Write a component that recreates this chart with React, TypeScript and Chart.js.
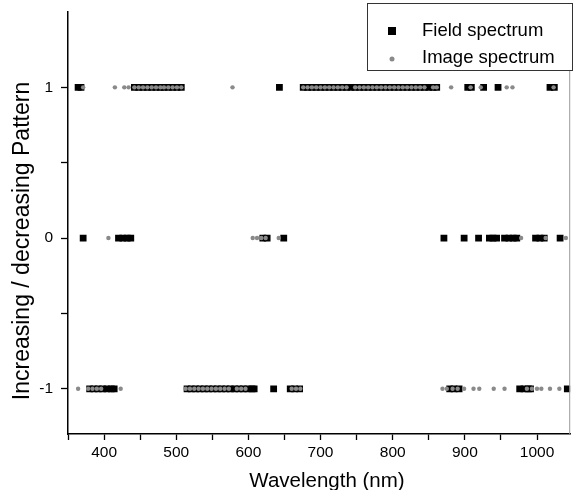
import React, { useEffect, useRef } from "react";
import { Chart, registerables } from "chart.js";
Chart.register(...registerables);

// Wavelengths (nm) where the pattern is +1 (increasing)
const fieldUp = [364, 368, 442, 448, 454, 460, 466, 472, 478, 483, 489, 495, 501, 507, 643,
  676, 682, 688, 694, 700, 706, 712, 718, 724, 730, 736, 742, 748, 754, 760, 766, 772, 778, 784,
  790, 796, 802, 808, 814, 820, 826, 832, 838, 844, 850, 856, 861,
  904, 909, 926, 946, 1018, 1024];
const imageUp = [371, 415, 428, 434, 442, 448, 454, 460, 466, 472, 478, 483, 489, 495, 501, 507, 578,
  676, 682, 688, 694, 700, 706, 712, 718, 724, 730, 736, 748, 754, 760, 766, 772, 778, 784,
  790, 796, 802, 808, 814, 820, 826, 832, 838, 844, 856, 861,
  881, 908, 922, 958, 966, 1023];
// Wavelengths where the pattern is 0
const fieldZero = [371, 420, 426, 432, 437, 620, 626, 649,
  871, 899, 919, 934, 939, 944, 955, 961, 967, 972, 998, 1004, 1010, 1032];
const imageZero = [406, 606, 612, 618, 624, 642, 978, 1012, 1040];
// Wavelengths where the pattern is -1 (decreasing)
const fieldDown = [380, 386, 392, 398, 404, 410, 414,
  515, 521, 527, 533, 539, 545, 551, 557, 563, 569, 575, 581, 587, 593, 599, 605, 608,
  635, 658, 664, 671, 879, 885, 892, 976, 982, 988, 991, 1042];
const imageDown = [364, 378, 384, 390, 396, 423,
  513, 519, 525, 531, 537, 543, 549, 555, 561, 567, 573, 584, 590, 596,
  660, 666, 672, 869, 875, 883, 890, 899, 912, 920, 940, 955, 986, 993, 1000, 1006, 1018, 1031];

const xTickValues = [350, 400, 450, 500, 550, 600, 650, 700, 750, 800, 850, 900, 950, 1000];
const yTickValues = [-1, -0.5, 0, 0.5, 1];
const seriesNames = ["Field spectrum", "Image spectrum"];
const xTitle = "Wavelength (nm)";
const yTitle = "Increasing / decreasing Pattern";

const FONT = '"Liberation Sans", Arial, sans-serif';

const toPoints = (rows: [number[], number][]) =>
  rows.flatMap(([xs, y]) => xs.map((x) => ({ x, y })));

const decorPlugin = {
  id: "decor",
  afterDraw(chart: any) {
    const ctx = chart.ctx;
    const area = chart.chartArea;
    ctx.save();
    // right frame line
    ctx.strokeStyle = "#9a9a9a";
    ctx.lineWidth = 1;
    ctx.beginPath();
    ctx.moveTo(area.right - 0.5, area.top);
    ctx.lineTo(area.right - 0.5, area.bottom);
    ctx.stroke();
    // axis titles
    ctx.fillStyle = "#000";
    ctx.textAlign = "center";
    ctx.textBaseline = "middle";
    ctx.font = `20.5px ${FONT}`;
    ctx.fillText(xTitle, 327, 481);
    ctx.save();
    ctx.font = `23px ${FONT}`;
    ctx.translate(23, 241);
    ctx.rotate(-Math.PI / 2);
    ctx.fillText(yTitle, 0, 0);
    ctx.restore();
    // legend box
    ctx.fillStyle = "#fff";
    ctx.fillRect(367.5, 3.5, 205, 67);
    ctx.strokeStyle = "#333";
    ctx.strokeRect(367.5, 3.5, 205, 67);
    ctx.fillStyle = "#000";
    ctx.fillRect(388, 27, 8, 8);
    ctx.fillStyle = "#8a8a8a";
    ctx.beginPath();
    ctx.arc(392, 59, 2.5, 0, Math.PI * 2);
    ctx.fill();
    ctx.fillStyle = "#000";
    ctx.font = `18.5px ${FONT}`;
    ctx.textBaseline = "alphabetic";
    ctx.textAlign = "left";
    ctx.fillText(seriesNames[0], 422, 36);
    ctx.fillText(seriesNames[1], 422, 63);
    ctx.restore();
  },
};

export default function App() {
  const ref = useRef<HTMLCanvasElement | null>(null);
  useEffect(() => {
    if (!ref.current) return;
    const chart = new Chart(ref.current, {
      type: "scatter",
      data: {
        datasets: [
          {
            label: seriesNames[0],
            data: toPoints([[fieldUp, 1], [fieldZero, 0], [fieldDown, -1]]),
            pointStyle: "rect",
            pointRadius: 4.8,
            backgroundColor: "#000",
            borderWidth: 0,
            order: 2,
          },
          {
            label: seriesNames[1],
            data: toPoints([[imageUp, 1], [imageZero, 0], [imageDown, -1]]),
            pointStyle: "circle",
            pointRadius: 2.2,
            backgroundColor: "#8a8a8a",
            borderWidth: 0,
            order: 1,
          },
        ],
      },
      options: {
        responsive: false,
        animation: false,
        layout: { padding: { top: 12, right: 2, left: 0, bottom: 0 } },
        plugins: { legend: { display: false }, tooltip: { enabled: false } },
        scales: {
          x: {
            type: "linear",
            min: 350,
            max: 1046,
            afterFit: (s: any) => { s.height = 66; s.paddingLeft = 0; s.paddingRight = 0; },
            afterBuildTicks: (s: any) => { s.ticks = xTickValues.map((v) => ({ value: v })); },
            ticks: {
              color: "#000",
              font: { family: FONT, size: 15.5 },
              padding: 3,
              maxRotation: 0,
              autoSkip: false,
              callback: (v: any) => (Number(v) % 100 === 0 ? String(v) : ""),
            },
            grid: { drawOnChartArea: false, tickLength: 6, tickColor: "#000", tickWidth: 1.3 },
            border: { color: "#000", width: 1.5 },
          },
          y: {
            type: "linear",
            min: -1.3,
            max: 1.5,
            afterFit: (s: any) => { s.width = 68; s.paddingTop = 0; s.paddingBottom = 0; },
            afterBuildTicks: (s: any) => { s.ticks = yTickValues.map((v) => ({ value: v })); },
            ticks: {
              color: "#000",
              font: { family: FONT, size: 15.5 },
              padding: 8,
              autoSkip: false,
              callback: (v: any) => (Number.isInteger(Number(v)) ? String(v) : ""),
            },
            grid: { drawOnChartArea: false, tickLength: 7, tickColor: "#000", tickWidth: 1.3 },
            border: { color: "#000", width: 1.5 },
          },
        },
      },
      plugins: [decorPlugin],
    });
    return () => chart.destroy();
  }, []);
  return (
    <div style={{ position: "fixed", left: 0, top: 0, width: 575, height: 490, overflow: "hidden", background: "#fff" }}>
      <canvas ref={ref} width={575} height={500} style={{ display: "block" }} />
    </div>
  );
}
